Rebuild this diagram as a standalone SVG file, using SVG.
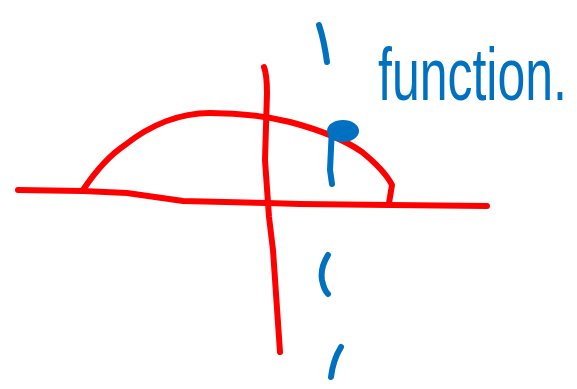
<svg xmlns="http://www.w3.org/2000/svg" width="577" height="389" viewBox="0 0 577 389">
<style>
.red{fill:none;stroke:#FF0000;stroke-width:6;stroke-linecap:round;stroke-linejoin:round}
.blue{fill:none;stroke:#0070C0;stroke-width:6;stroke-linecap:round;stroke-linejoin:round}
.label{font-family:"Liberation Sans",Arial,sans-serif;fill:#0070C0}
</style>
<rect width="577" height="389" fill="#FFFFFF"/>
<g id="axes">
<path class="red" d="M18,190 L83,191 L127,193 L183,201 L267,203 L300,204 L390,205 L487,206"/>
<path class="red" d="M264,67 Q267,75 267,93 L265,160 L269,217 L273,250 L280,352"/>
</g>
<g id="curve">
<path class="red" d="M83,190 C95,172 110,155 125,145 C150,125 180,113 210,113 C240,113 265,116 290,122 C320,130 345,140 362,152 C378,165 387,175 392,185 L389,203"/>
</g>
<g id="point">
<ellipse cx="343" cy="131" rx="16" ry="11" fill="#0070C0"/>
<path class="blue" d="M332,127 L330,170 L332,184" stroke-width="7"/>
</g>
<g id="dashes">
<path class="blue" d="M319,25 Q324,40 327,62"/>
<path class="blue" d="M328,255 Q320,268 322,280 Q324,290 328,294"/>
<path class="blue" d="M341,347 Q333,360 331,377"/>
</g>
<g id="title">
<text class="label" transform="translate(378,100) scale(1,1.5)" x="0" y="0" font-size="50">function.</text>
</g>
</svg>
